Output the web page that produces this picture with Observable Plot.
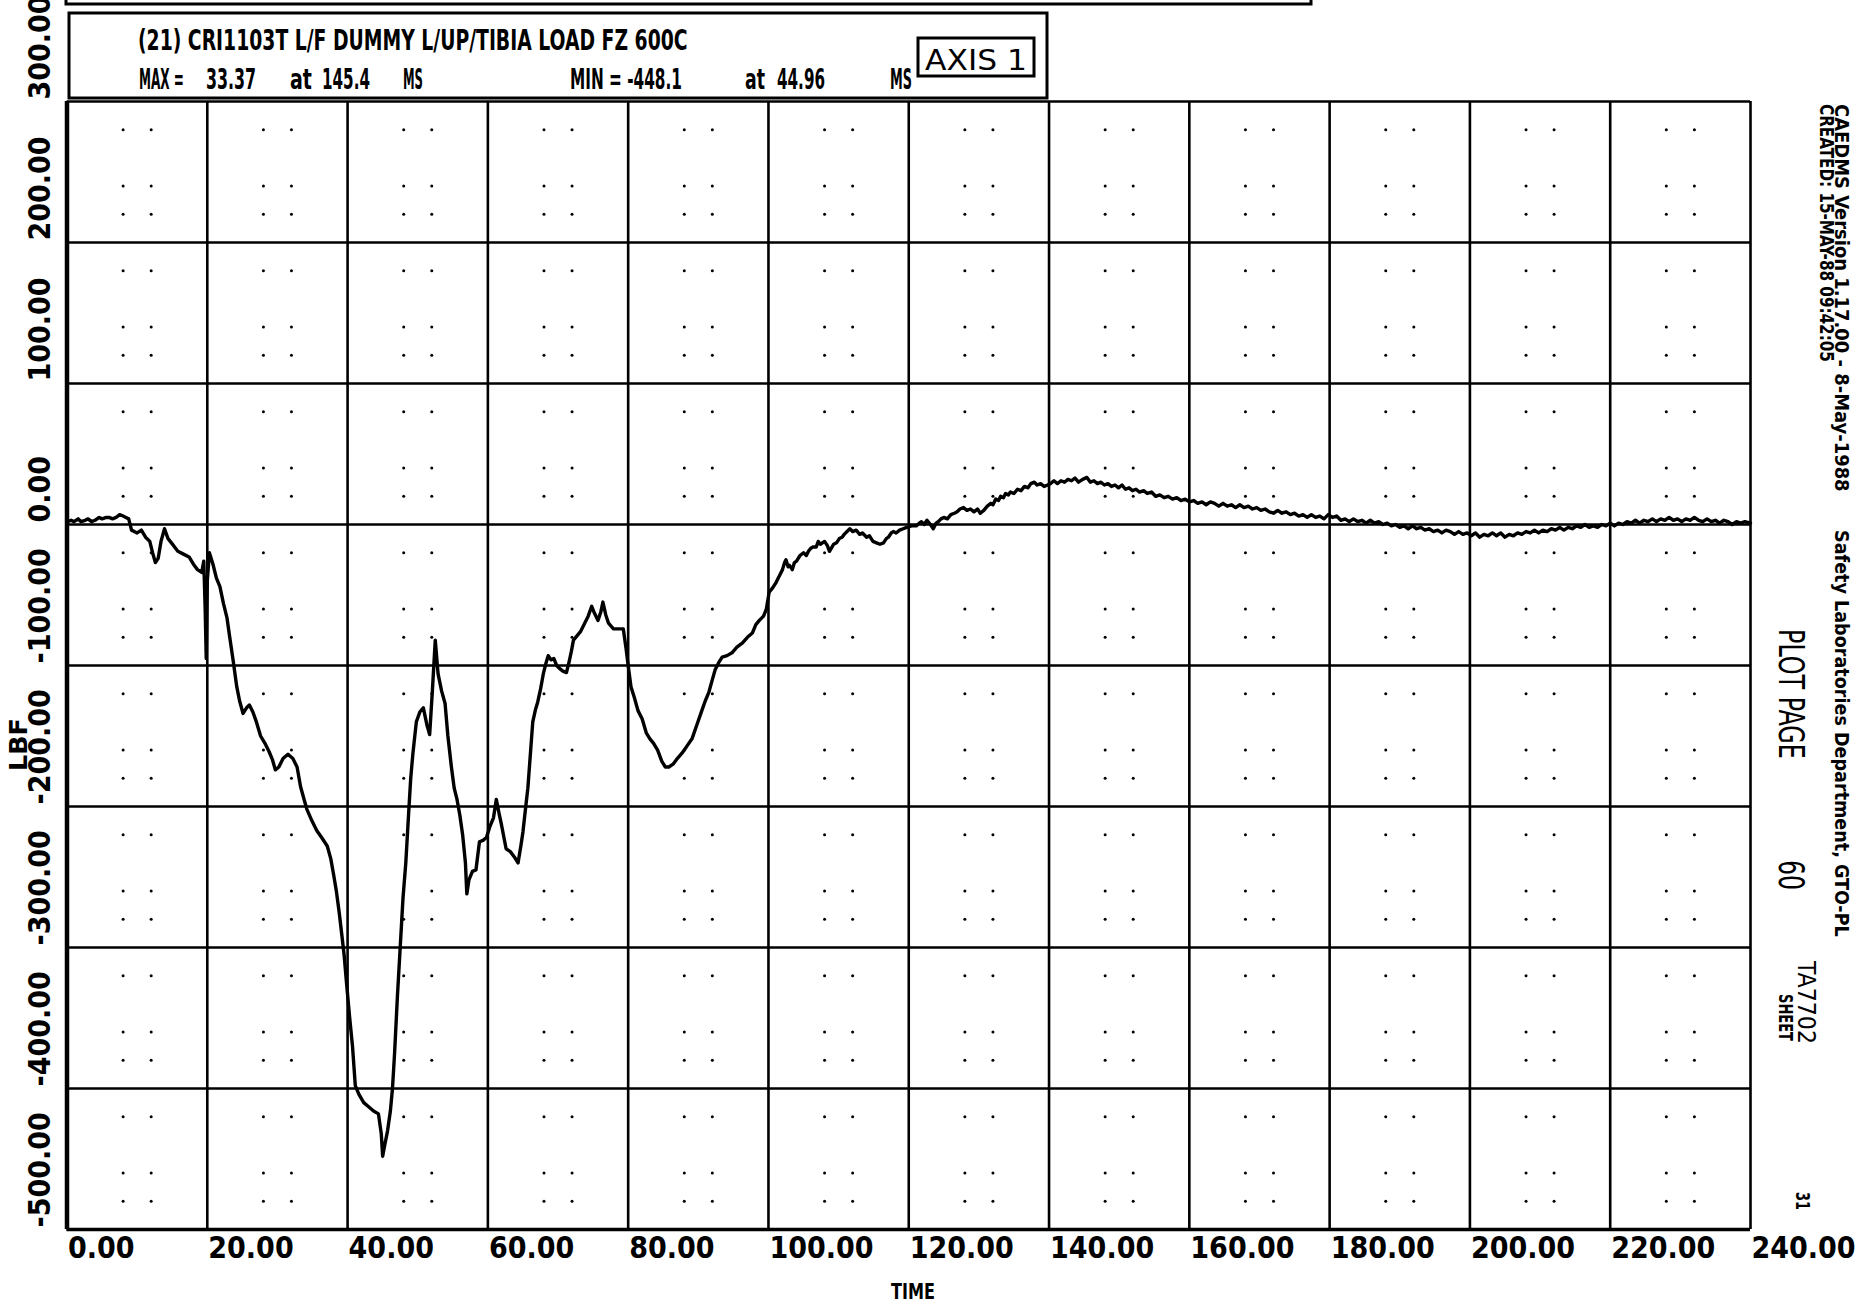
<!DOCTYPE html>
<html>
<head>
<meta charset="utf-8">
<script src="https://cdn.jsdelivr.net/npm/d3@7"></script>
<script src="https://cdn.jsdelivr.net/npm/@observablehq/plot@0.6"></script>
<style>
  html, body { margin: 0; padding: 0; background: #fff; }
  #chart { width: 1860px; height: 1305px; }
</style>
</head>
<body>
<div id="chart"></div>
<script>
// ---- data ----
const xTicks = [0, 20, 40, 60, 80, 100, 120, 140, 160, 180, 200, 220, 240];
const xTickLabels = ["0.00", "20.00", "40.00", "60.00", "80.00", "100.00", "120.00", "140.00", "160.00", "180.00", "200.00", "220.00", "240.00"];
const yTicks = [300, 200, 100, 0, -100, -200, -300, -400, -500];
const yTickLabels = ["300.00", "200.00", "100.00", "0.00", "-100.00", "-200.00", "-300.00", "-400.00", "-500.00"];
const minorXOffsets = [8, 12];
const minorYOffsets = [20, 40, 80];

const headerTitle = "(21) CRI1103T L/F DUMMY L/UP/TIBIA LOAD FZ 600C";
const headerStats = [
  ["MAX =", 139, 45], ["33.37", 206, 50], ["at", 290, 22], ["145.4", 322, 48], ["MS", 403, 20],
  ["MIN = -448.1", 570, 112], ["at", 745, 20], ["44.96", 777, 48], ["MS", 890, 22]
];
const axisTag = "AXIS 1";
const xTitle = "TIME";
const yTitle = "LBF";
const sideLines = [
  // text, center x, start y, length, size, weight
  ["CAEDMS Version 1.17.00 - 8-May-1988", 1842, 104, 388, 19, "bold"],
  ["Safety Laboratories Department, GTO-PL", 1842, 530, 407, 19, "bold"],
  ["CREATED: 15-MAY-88 09:42:05", 1827, 104, 258, 19, "bold"],
  ["PLOT PAGE", 1792, 629, 130, 36, "normal"],
  ["60", 1792, 860, 30, 36, "normal"],
  ["TA7702", 1806, 961, 83, 24, "normal"],
  ["SHEET", 1786, 994, 47, 20, "bold"],
  ["31", 1803, 1192, 18, 20, "bold"]
];

// time (ms), tibia Fz (lbf)
const tibiaFz = [
  [0,2],[0.6,3],[1,2],[1.6,4],[2,2],[2.6,3],[3,4],[3.5,2],[4,3],[4.6,5],[5,4],[5.6,5],[6,5],[6.5,4],[7,5],[7.5,7],[8,6],[8.4,5],[8.8,4],
  [9.2,-4],[10,-6],[10.6,-4],[11.2,-9],[11.8,-12],[12.2,-20],[12.6,-27],[13.0,-24],[13.4,-12],[13.9,-3],
  [14.4,-10],[15.2,-15],[15.8,-19],[16.6,-21],[17.4,-23],[18.0,-28],[18.6,-32],[19.2,-34],[19.5,-26],[19.7,-60],
  [19.85,-95],[20.0,-40],[20.3,-20],[20.8,-28],[21.3,-38],[21.8,-44],[22.3,-56],[22.8,-66],[23.2,-80],[23.7,-97],
  [24.2,-115],[24.6,-125],[25.1,-134],[25.6,-130],[26.0,-128],[26.5,-133],[27.0,-140],[27.6,-150],[28.2,-155],[28.8,-161],
  [29.3,-167],[29.7,-174],[30.2,-172],[30.8,-166],[31.5,-163],[32.2,-166],[32.8,-172],[33.3,-186],[33.8,-195],[34.2,-202],
  [34.9,-210],[35.6,-217],[36.3,-222],[37.1,-228],[37.6,-237],[38.0,-248],[38.4,-260],[38.8,-275],[39.2,-292],[39.5,-305],
  [39.9,-328],[40.3,-350],[40.7,-370],[41.1,-398],[41.6,-404],[42.3,-410],[43.0,-413],[43.7,-416],[44.4,-418],[44.8,-432],
  [45.0,-448],[45.3,-440],[45.7,-430],[46.1,-416],[46.4,-400],[46.7,-375],[47.1,-335],[47.5,-300],[47.9,-265],[48.3,-240],
  [48.7,-205],[49.0,-180],[49.3,-163],[49.8,-140],[50.3,-133],[50.8,-130],[51.3,-142],[51.7,-149],[52.1,-117],[52.5,-82],
  [52.9,-106],[53.4,-118],[53.9,-127],[54.3,-150],[54.8,-172],[55.2,-187],[55.6,-195],[56.0,-206],[56.4,-220],[56.8,-240],
  [57.0,-262],[57.3,-252],[57.8,-246],[58.3,-245],[58.8,-225],[59.3,-224],[59.8,-222],[60.3,-214],[60.8,-208],[61.2,-195],
  [61.6,-205],[61.9,-212],[62.6,-230],[63.2,-232],[63.8,-236],[64.3,-240],[64.7,-228],[65.0,-218],[65.4,-200],[65.7,-187],
  [66.1,-160],[66.4,-140],[66.8,-131],[67.1,-126],[67.5,-117],[67.9,-106],[68.3,-98],[68.6,-93],[69.0,-96],[69.4,-95],
  [69.8,-100],[70.2,-102],[70.7,-104],[71.2,-105],[71.6,-97],[71.9,-90],[72.2,-82],[72.7,-79],[73.2,-76],[73.8,-70],
  [74.3,-65],[74.8,-58],[75.2,-63],[75.7,-68],[76.1,-62],[76.4,-55],[76.8,-64],[77.2,-70],[77.9,-74],[78.6,-74],
  [79.3,-74],[79.7,-88],[80.0,-100],[80.4,-115],[80.9,-123],[81.4,-132],[82.0,-138],[82.6,-148],[83.1,-152],[83.6,-155],
  [84.2,-160],[84.8,-168],[85.3,-172],[85.8,-172],[86.4,-170],[87.0,-166],[87.7,-162],[88.4,-157],[89.1,-152],[89.8,-142],
  [90.5,-132],[91.0,-125],[91.5,-119],[92.0,-110],[92.4,-103],[92.9,-98],[93.4,-94],[94.1,-93],[94.8,-91],[95.5,-87],
  [96.3,-84],[97.0,-80],[97.7,-77],[98.2,-71],[98.7,-68],[99.3,-65],[99.7,-60],
  [100.1,-48],[100.6,-45],[101.1,-41],[101.4,-38],[101.6,-36],[102.0,-32],[102.3,-27],[102.5,-25],[102.8,-30],[103.0,-29],
  [103.4,-32],[103.7,-27],[104.0,-26],[104.5,-22],[105.0,-20],[105.4,-22],[105.7,-19],[106.0,-17],[106.3,-16],[106.8,-16],
  [107.1,-12],[107.4,-14],[108.0,-12],[108.4,-15],[108.7,-19],[109.3,-14],[109.7,-13],[110.1,-10],[110.5,-9],[110.8,-7],
  [111.2,-5],[111.6,-3],[112.0,-5],[112.5,-4],[113.0,-7],[113.4,-6],[114.0,-9],[114.4,-8],[114.9,-12],[115.4,-13],
  [115.9,-14],[116.4,-13],[116.8,-10],[117.1,-9],[117.5,-6],[117.8,-5],[118.2,-6],[118.7,-4],[119.2,-3],[119.7,-2],
  [120.4,-1],[121.1,-1],[121.5,1],[121.8,2],[122.2,0],[122.6,3],[123.1,0],[123.5,-3],[123.9,1],[124.2,2],
  [124.6,4],[125.0,5],[125.5,4],[126.0,7],[126.5,8],[126.9,9],[127.3,11],[127.8,12],[128.3,10],[128.8,11],
  [129.3,9],[129.8,11],[130.2,8],[130.7,10],[131.2,13],[131.7,15],[132.0,14],[132.4,18],[132.8,17],[133.1,20],
  [133.5,19],[133.8,22],[134.2,21],[134.5,23],[135.0,22],[135.5,25],[136.0,24],[136.5,27],[137.0,26],[137.4,29],
  [137.9,30],[138.3,28],[138.8,29],[139.3,27],[139.8,28],
  [140.2,29],[140.7,31],[141.2,29],[141.7,31],[142.2,30],[142.7,32],[143.2,31],[143.7,33],[144.2,30],[144.8,32],
  [145.4,33.4],[145.9,30],[146.4,31],[146.9,29],[147.4,30],[147.9,28],[148.4,29],[148.9,27],[149.4,28],[149.9,26],
  [150.4,28],[150.9,25],[151.4,26],[151.9,24],[152.4,25],[152.9,23],[153.5,24],[154,22],[154.6,23],[155.2,20],
  [155.8,21],[156.4,19],[157,20],[157.6,18],[158.2,19],[158.8,17],[159.4,18],[160,16],[160.6,17],[161.2,15],
  [161.8,16],[162.4,14],[163,16],[163.6,15],[164.2,13],[164.8,15],[165.4,13],[166,14],[166.6,12],[167.2,14],
  [167.8,12],[168.4,13],[169,11],[169.6,12],[170.2,10],[170.8,11],[171.4,9],[172,8],[172.6,10],[173.2,8],
  [173.8,9],[174.4,7],[175,8],[175.6,6],[176.2,7],[176.8,5],[177.4,7],[178,5],[178.6,6],[179.2,4],
  [179.8,7],[180.4,5],[181,6],[181.6,3],[182.2,4],[182.8,2],[183.4,4],[184,2],[184.6,3],[185.2,1],
  [185.8,3],[186.4,1],[187,2],[187.6,0],[188.2,1],[188.8,-1],[189.4,0],[190,-2],[190.6,-1],[191.2,-3],
  [191.8,-1],[192.4,-3],[193,-2],[193.6,-4],[194.2,-3],[194.8,-5],[195.4,-4],[196,-6],[196.6,-4],[197.2,-5],
  [197.8,-7],[198.4,-5],[199,-7],[199.6,-6],[200.2,-8],[200.8,-6],[201.4,-9],[202,-7],[202.6,-8],[203.2,-6],
  [203.8,-8],[204.4,-6],[205,-9],[205.6,-7],[206.2,-8],[206.8,-6],[207.4,-7],[208,-5],[208.6,-6],[209.2,-4],
  [209.8,-6],[210.4,-4],[211,-5],[211.6,-3],[212.2,-4],[212.8,-2],[213.4,-4],[214,-2],[214.6,-3],[215.2,-1],
  [215.8,-2],[216.4,0],[217,-2],[217.6,-1],[218.2,-2],[218.8,0],[219.4,-1],[220,1],[220.6,-1],[221.2,1],
  [221.8,0],[222.4,2],[223,1],[223.6,3],[224.2,1],[224.8,3],[225.4,2],[226,4],[226.6,2],[227.2,4],
  [227.8,3],[228.4,5],[229,3],[229.6,4],[230.2,2],[230.8,4],[231.4,3],[232,5],[232.6,3],[233.2,2],
  [233.8,4],[234.4,2],[235,3],[235.6,1],[236.2,3],[236.8,2],[237.4,0],[238,2],[238.6,1],[239.2,2],[240,1]
];

// ---- derived tables ----
const curve = tibiaFz.map(([t, v]) => ({t, v}));
const minorDots = [];
for (const x0 of xTicks.slice(0, -1)) {
  for (const y0 of yTicks.slice(1)) {
    for (const ox of minorXOffsets) for (const oy of minorYOffsets) minorDots.push({x: x0 + ox, y: y0 + oy});
  }
}

const FONT = "'Liberation Sans Narrow', 'DejaVu Sans Condensed', 'Liberation Sans', sans-serif";

const plot = Plot.plot({
  width: 1860,
  height: 1305,
  marginLeft: 66.5,
  marginRight: 110,
  marginTop: 101,
  marginBottom: 76,
  style: {background: "white", fontFamily: FONT, color: "black"},
  x: {domain: [0, 240], axis: null},
  y: {domain: [-500, 300], axis: null},
  marks: [
    Plot.dot(minorDots, {x: "x", y: "y", r: 1.5, fill: "black", stroke: "none"}),
    Plot.ruleX(xTicks, {stroke: "black", strokeWidth: 2.6}),
    Plot.ruleY(yTicks, {stroke: "black", strokeWidth: 2.6}),
    Plot.ruleX([0], {stroke: "black", strokeWidth: 4.5}),
    Plot.ruleY([-500], {stroke: "black", strokeWidth: 3.5}),
    Plot.line(curve, {x: "t", y: "v", stroke: "black", strokeWidth: 3.4, strokeLinejoin: "round"}),
    Plot.text(xTicks, {x: d => d, text: (d, i) => xTickLabels[i], frameAnchor: "bottom", textAnchor: "start",
      dx: 1, dy: 28, fontSize: 30, fontWeight: "bold", fontFamily: FONT, fill: "black", ariaLabel: "x-tick-labels"}),
    Plot.text(yTicks, {y: d => d, text: (d, i) => yTickLabels[i], frameAnchor: "left", textAnchor: "start",
      rotate: -90, dx: -27, dy: -2, fontSize: 30, fontWeight: "bold", fontFamily: FONT, fill: "black", ariaLabel: "y-tick-labels"})
  ]
});
document.getElementById("chart").appendChild(plot);

const svg = d3.select(plot);
svg.selectAll("g[aria-label='x-tick-labels'] text").each(function() {
  const s = this.textContent; d3.select(this).attr("textLength", 12.8 * s.length).attr("lengthAdjust", "spacingAndGlyphs");
});
// rotated y labels: squeeze horizontally (along reading direction) with a scale transform
svg.selectAll("g[aria-label='y-tick-labels'] text").each(function() {
  const s = this.textContent;
  const w = this.getComputedTextLength();
  const k = w > 0 ? (14 * s.length) / w : 1;
  const tr = this.getAttribute("transform") || "";
  this.setAttribute("transform", `${tr} scale(${k},1)`);
});

const extra = svg.append("g").attr("font-family", FONT).attr("fill", "black").attr("text-anchor", "start");
function txt(s, x, y, len, size, weight, rotate) {
  const t = extra.append("text").text(s).attr("font-size", size).attr("font-weight", weight || "bold")
    .attr("text-anchor", "start");
  if (rotate) t.attr("dy", "0.35em");
  const w = t.node().getComputedTextLength();
  const k = w > 0 ? len / w : 1;
  t.attr("transform", `translate(${x},${y})${rotate ? ` rotate(${rotate})` : ""} scale(${k},1)`);
  return t;
}

// partial box above header
extra.append("path").attr("d", "M66,0 V4 H1311 V0").attr("fill", "none").attr("stroke", "black").attr("stroke-width", 3);
// header box
extra.append("rect").attr("x", 69).attr("y", 13).attr("width", 978).attr("height", 85)
  .attr("fill", "white").attr("stroke", "black").attr("stroke-width", 3);
txt(headerTitle, 138, 50, 550, 28, "bold");
for (const [s, x, len] of headerStats) txt(s, x, 89, len, 28, "bold");
extra.append("rect").attr("x", 918).attr("y", 38).attr("width", 116).attr("height", 38)
  .attr("fill", "white").attr("stroke", "black").attr("stroke-width", 3);
txt(axisTag, 925, 70, 102, 28, "normal");

// axis titles
txt(xTitle, 891, 1299, 44, 22, "bold");
txt(yTitle, 19, 771, 53, 24, "bold", -90);

// side annotations
for (const [s, cx, y0, len, size, w] of sideLines) txt(s, cx, y0, len, size, w, 90);
</script>
</body>
</html>
